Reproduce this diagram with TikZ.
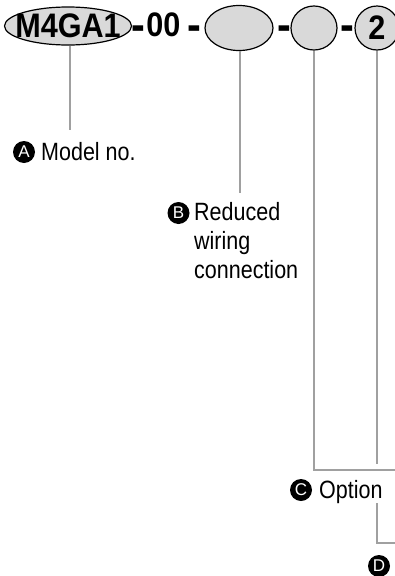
\documentclass[tikz,border=0pt]{standalone}
\usepackage{fontspec}
\setmainfont{Liberation Sans}
\newfontfamily\lblfont[FakeStretch=0.86]{Liberation Sans}
\newfontfamily\codefont[FakeStretch=0.9]{Liberation Sans Bold}
\usetikzlibrary{shapes.geometric}
\definecolor{pillfill}{HTML}{D9D9D9}
\definecolor{leadgray}{HTML}{A0A0A0}
\tikzset{
  pill/.style={ellipse, draw=black, line width=1.2pt, fill=pillfill, inner sep=0pt},
  codetext/.style={inner sep=0pt, font=\fontsize{34}{34}\selectfont\codefont},
  dashtext/.style={inner sep=0pt, anchor=base, font=\fontsize{46}{46}\selectfont\codefont},
  lead/.style={draw=leadgray, line width=2.5pt},
  badge/.style={circle, fill=black, text=white, inner sep=0pt, minimum size=22pt, font=\fontsize{17}{17}\selectfont},
  lbl/.style={inner sep=0pt, anchor=base west, font=\fontsize{25}{29}\selectfont\lblfont, align=left},
}
\begin{document}
\begin{tikzpicture}[x=1pt,y=-1pt]
\useasboundingbox (0,0) rectangle (395,576);
\clip (0,0) rectangle (395,576);
% code row
\node[pill, minimum width=127pt, minimum height=38pt] (pA) at (68,26) {};
\node[codetext] (tA) at (pA.center) {M4GA1};
\node[dashtext] (d1) at (138.5,40) {-};
\node[codetext] (t00) at (163.5,25) {00};
\node[dashtext] (d2) at (194,40) {-};
\node[pill, minimum width=68pt, minimum height=45pt] (pB) at (239,28) {};
\node[dashtext] (d3) at (284,40) {-};
\node[pill, minimum width=46pt, minimum height=44pt] (pC) at (314,28) {};
\node[dashtext] (d4) at (347.5,40) {-};
\node[pill, minimum width=44pt, minimum height=44pt] (pD) at (377,28) {};
\node[codetext] (tD) at (pD.center) {2};
% labels
\node[badge] (bA) at (24,152) {A};
\node[lbl] (lA) at (41,160) {Model no.};
\node[badge] (bB) at (178.5,213) {B};
\node[lbl] (lB) at (194,278) {Reduced\\wiring\\connection};
\node[badge] (bC) at (301,490) {C};
\node[lbl] (lC) at (319,498) {Option};
\node[badge] (bD) at (379,566) {D};
% leader coordinates
\coordinate (aEnd) at (70,130);
\coordinate (bEnd) at (240,193);
\coordinate (cCorner) at (314,470);
\coordinate (cRight) at (400,470);
\coordinate (dEnd) at (377,464);
\coordinate (eTop) at (377,503);
\coordinate (eCorner) at (377,543);
\coordinate (eRight) at (400,543);
% leaders
\draw[lead] (pA.south -| aEnd) -- (aEnd);
\draw[lead] (pB.south -| bEnd) -- (bEnd);
\draw[lead] (pC.south -| cCorner) -- (cCorner) -- (cRight);
\draw[lead] (pD.south) -- (dEnd);
\draw[lead] (eTop) -- (eCorner) -- (eRight);
\end{tikzpicture}
\end{document}
